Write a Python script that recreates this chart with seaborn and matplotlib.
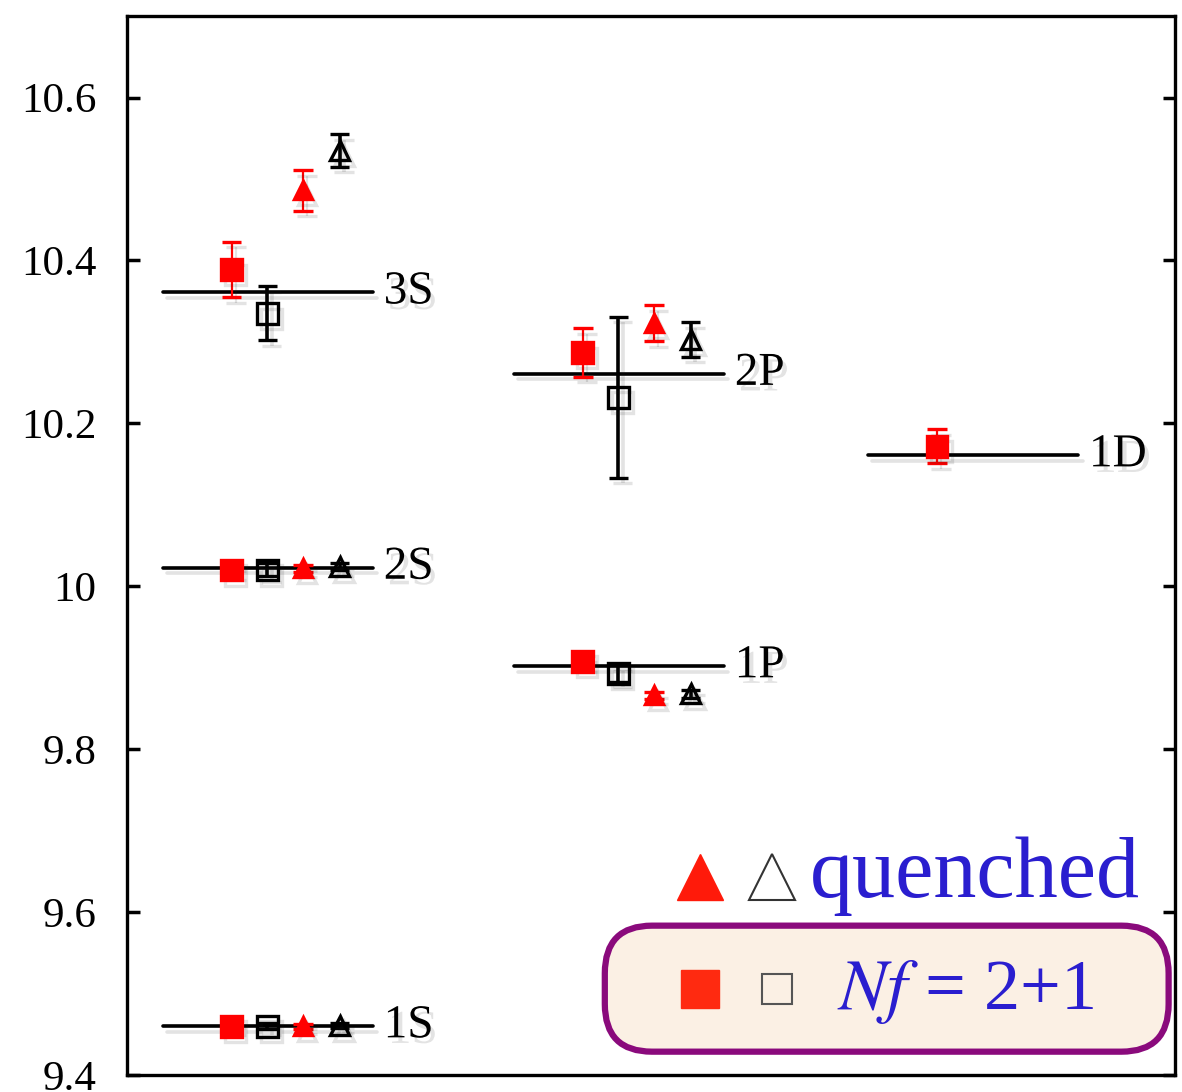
import numpy as np
import pandas as pd
import matplotlib
matplotlib.use('Agg')
import matplotlib.pyplot as plt
import matplotlib.patheffects as pe
from matplotlib.patches import FancyBboxPatch
import seaborn as sns

# states and experimental masses (horizontal lines)
states = ['1S', '2S', '3S', '1P', '2P', '1D']
state_group = [0, 0, 0, 1, 1, 2]
exp_mass = [9.460, 10.023, 10.361, 9.902, 10.261, 10.161]

# Nf = 2+1, filled red squares / open black squares
nf21_red = [9.460, 10.020, 10.389, 9.908, 10.287, 10.172]
nf21_red_err = [0.004, 0.005, 0.034, 0.006, 0.030, 0.021]
nf21_black = [9.460, 10.020, 10.335, 9.893, 10.232, np.nan]
nf21_black_err = [0.004, 0.008, 0.033, 0.010, 0.099, np.nan]

# quenched, filled red triangles / open black triangles
quen_red = [9.460, 10.022, 10.486, 9.866, 10.323, np.nan]
quen_red_err = [0.003, 0.004, 0.025, 0.004, 0.022, np.nan]
quen_black = [9.461, 10.024, 10.535, 9.868, 10.303, np.nan]
quen_black_err = [0.003, 0.004, 0.020, 0.005, 0.021, np.nan]

yticks = [9.4, 9.6, 9.8, 10.0, 10.2, 10.4, 10.6]

df = pd.DataFrame({'state': states, 'group': state_group, 'exp': exp_mass})

sns.set_theme(style='ticks')
plt.rcParams['font.family'] = ['Liberation Serif', 'DejaVu Serif']
plt.rcParams['mathtext.fontset'] = 'stix'
plt.rcParams['text.color'] = 'black'
plt.rcParams['ytick.color'] = 'black'
plt.rcParams['ytick.labelcolor'] = 'black'

fig = plt.figure(figsize=(11.82, 10.92), dpi=100)
ax = fig.add_axes([0.1074, 0.0156, 0.8866, 0.9697])

group_x = [0.0, 3.35, 6.73]
series_dx = [1.0, 1.34, 1.68, 2.03]
df['x0'] = [group_x[g] for g in df['group']]

shadow = [pe.SimpleLineShadow(offset=(3, -4), shadow_color='k', alpha=0.12), pe.Normal()]
tshadow = [pe.withSimplePatchShadow(offset=(3, -4), shadow_rgbFace='k', alpha=0.12)]

for _, r in df.iterrows():
    ln, = ax.plot([r.x0 + 0.34, r.x0 + 2.35], [r.exp, r.exp], color='black', lw=2.6, zorder=2)
    ln.set_path_effects(shadow)
    ax.text(r.x0 + 2.45, r.exp, r.state, fontsize=34, ha='left', va='center',
            color='black', path_effects=tshadow)

series = [
    (nf21_red, nf21_red_err, 's', 'red', 'red', 15, 1.6, 7),
    (nf21_black, nf21_black_err, 's', 'none', 'black', 15, 2.6, 7),
    (quen_red, quen_red_err, '^', 'red', 'red', 13, 1.6, 7),
    (quen_black, quen_black_err, '^', 'none', 'black', 14, 2.6, 7),
]
for k, (vals, errs, mk, fc, col, ms, lw, cs) in enumerate(series):
    xs = df['x0'] + series_dx[k]
    cont = ax.errorbar(xs, vals, yerr=errs, fmt=mk, ms=ms, mfc=fc, mec=col, mew=2.4,
                       ecolor=col, elinewidth=lw, capsize=cs, capthick=lw, zorder=3 + k)
    for art in [cont.lines[0]] + list(cont.lines[1]) + list(cont.lines[2]):
        art.set_path_effects(shadow)

ax.set_xlim(0, 10)
ax.set_ylim(9.4, 10.7)
ax.set_yticks(yticks)
ax.set_yticklabels(['%g' % t for t in yticks])
ax.set_xticks([])
ax.tick_params(axis='y', direction='in', length=9, width=2.5, labelsize=31,
               pad=22, right=True, left=True, labelright=False, colors='black')
for s in ax.spines.values():
    s.set_linewidth(2.4)
    s.set_color('black')

# legend drawn in axes coordinates
box = FancyBboxPatch((0.456, 0.022), 0.538, 0.119, transform=ax.transAxes,
                     boxstyle='round,pad=0,rounding_size=0.045', fc='#fbf0e4',
                     ec='#8a0a7c', lw=4.5, clip_on=False, zorder=8)
ax.add_patch(box)
ax.plot([0.547], [0.187], marker='^', ms=33, color='#ff1a0a', transform=ax.transAxes, zorder=9)
ax.plot([0.616], [0.187], marker='^', ms=33, mfc='none', mec='#333333', mew=1.5,
        transform=ax.transAxes, zorder=9)
ax.text(0.652, 0.168, 'quenched', transform=ax.transAxes, fontsize=62, color='#2a1ecf',
        ha='left', va='baseline', zorder=9)
ax.plot([0.547], [0.081], marker='s', ms=28, color='#ff2a10', transform=ax.transAxes, zorder=9)
ax.plot([0.620], [0.081], marker='s', ms=22, mfc='none', mec='#555555', mew=1.5,
        transform=ax.transAxes, zorder=9)
ax.text(0.678, 0.062, r'$Nf$ = 2+1', transform=ax.transAxes, fontsize=52, color='#2a1ecf',
        ha='left', va='baseline', zorder=9)

fig.savefig('out.png', dpi=100)
